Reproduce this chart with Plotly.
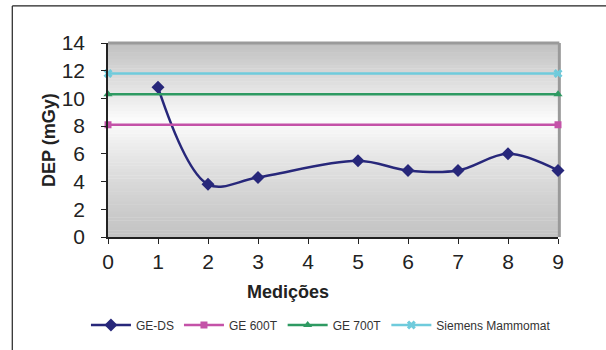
import plotly.graph_objects as go

x_geds = [1, 2, 3, 5, 6, 7, 8, 9]
y_geds = [10.8, 3.8, 4.3, 5.5, 4.8, 4.8, 6.0, 4.8]
x_ref = [0, 9]
y_ge600 = [8.1, 8.1]
y_ge700 = [10.3, 10.3]
y_siemens = [11.8, 11.8]
x_ticks = list(range(10))
y_ticks = list(range(0, 15, 2))

FONT = "Liberation Sans, Arial, sans-serif"

fig = go.Figure()
fig.add_trace(go.Scatter(x=x_geds, y=y_geds, name="GE-DS", mode="lines+markers", cliponaxis=False,
                         line=dict(color="#27277a", width=2.5, shape="spline", smoothing=1.0),
                         marker=dict(symbol="diamond", size=10, color="#27277a")))
fig.add_trace(go.Scatter(x=x_ref, y=y_ge600, name="GE 600T", mode="lines+markers", cliponaxis=False,
                         line=dict(color="#c452a8", width=2.5),
                         marker=dict(symbol="square", size=7, color="#c452a8")))
fig.add_trace(go.Scatter(x=x_ref, y=y_ge700, name="GE 700T", mode="lines+markers", cliponaxis=False,
                         line=dict(color="#2e9a62", width=2.5),
                         marker=dict(symbol="triangle-up", size=8, color="#2e9a62")))
fig.add_trace(go.Scatter(x=x_ref, y=y_siemens, name="Siemens Mammomat", mode="lines+markers", cliponaxis=False,
                         line=dict(color="#6fcbdc", width=2.5),
                         marker=dict(symbol="x", size=8, color="#6fcbdc")))

shapes = []
n = 60
def col(t):
    mid = 0.6
    if t <= mid:
        v = 196 + (252 - 196) * (t / mid) ** 1.3
    else:
        v = 192 + (252 - 192) * ((1 - t) / (1 - mid)) ** 1.0
    v = int(round(v))
    return f"rgb({v},{v},{v})"
for i in range(n):
    y0 = i / n
    y1 = (i + 1) / n
    shapes.append(dict(type="rect", xref="x domain", yref="y domain", x0=0, x1=1,
                       y0=y0, y1=y1 + 0.002, fillcolor=col((i + 0.5) / n),
                       line=dict(width=0), layer="below"))
shapes.append(dict(type="line", xref="x domain", yref="y domain", x0=0, x1=1.003, y0=1, y1=1,
                   line=dict(color="#9a9a9a", width=3), layer="below"))
shapes.append(dict(type="line", xref="x domain", yref="y domain", x0=1.003, x1=1.003, y0=0, y1=1,
                   line=dict(color="#9a9a9a", width=3), layer="below"))
shapes.append(dict(type="line", xref="paper", yref="paper", x0=-0.2127, x1=-0.2127, y0=-0.62, y1=1.191,
                   line=dict(color="#222", width=1.2), layer="above"))
shapes.append(dict(type="line", xref="paper", yref="paper", x0=-0.2127, x1=1.12, y0=1.191, y1=1.191,
                   line=dict(color="#222", width=1.2), layer="above"))

annotations = [
    dict(text="<b>Medições</b>", xref="paper", yref="paper", x=0.401, y=-0.2835,
         xanchor="center", yanchor="middle", showarrow=False,
         font=dict(size=18, family=FONT, color="#222")),
    dict(text="<b>DEP (mGy)</b>", xref="paper", yref="paper", x=-0.131, y=0.5,
         xanchor="center", yanchor="middle", showarrow=False, textangle=-90,
         font=dict(size=18, family=FONT, color="#222")),
]

fig.update_layout(
    width=606, height=350,
    margin=dict(l=108, r=48, t=43, b=113, autoexpand=False),
    paper_bgcolor="white", plot_bgcolor="rgba(0,0,0,0)",
    shapes=shapes, annotations=annotations,
    showlegend=True,
    legend=dict(orientation="h", xref="paper", x=-0.049, xanchor="left",
                y=-0.4536, yanchor="middle",
                font=dict(family=FONT, size=12, color="#333"), itemwidth=40,
                tracegroupgap=0),
    font=dict(family=FONT, color="#222"),
)
fig.update_xaxes(range=[0, 9], tickvals=x_ticks, ticks="outside", ticklen=5, tickcolor="#222",
                 showline=True, linecolor="#222", linewidth=1.5, showgrid=False, zeroline=False,
                 automargin=False, ticklabelstandoff=0,
                 tickfont=dict(size=21, family=FONT, color="#222"))
fig.update_yaxes(range=[0, 14], tickvals=y_ticks, ticks="outside", ticklen=5, tickcolor="#222",
                 showline=True, linecolor="#222", linewidth=1.5, showgrid=False, zeroline=False,
                 automargin=False, ticklabelstandoff=12,
                 tickfont=dict(size=21, family=FONT, color="#222"))

fig.write_html("out.html", post_script="document.body.style.margin='0';",
               config={"displayModeBar": False})
